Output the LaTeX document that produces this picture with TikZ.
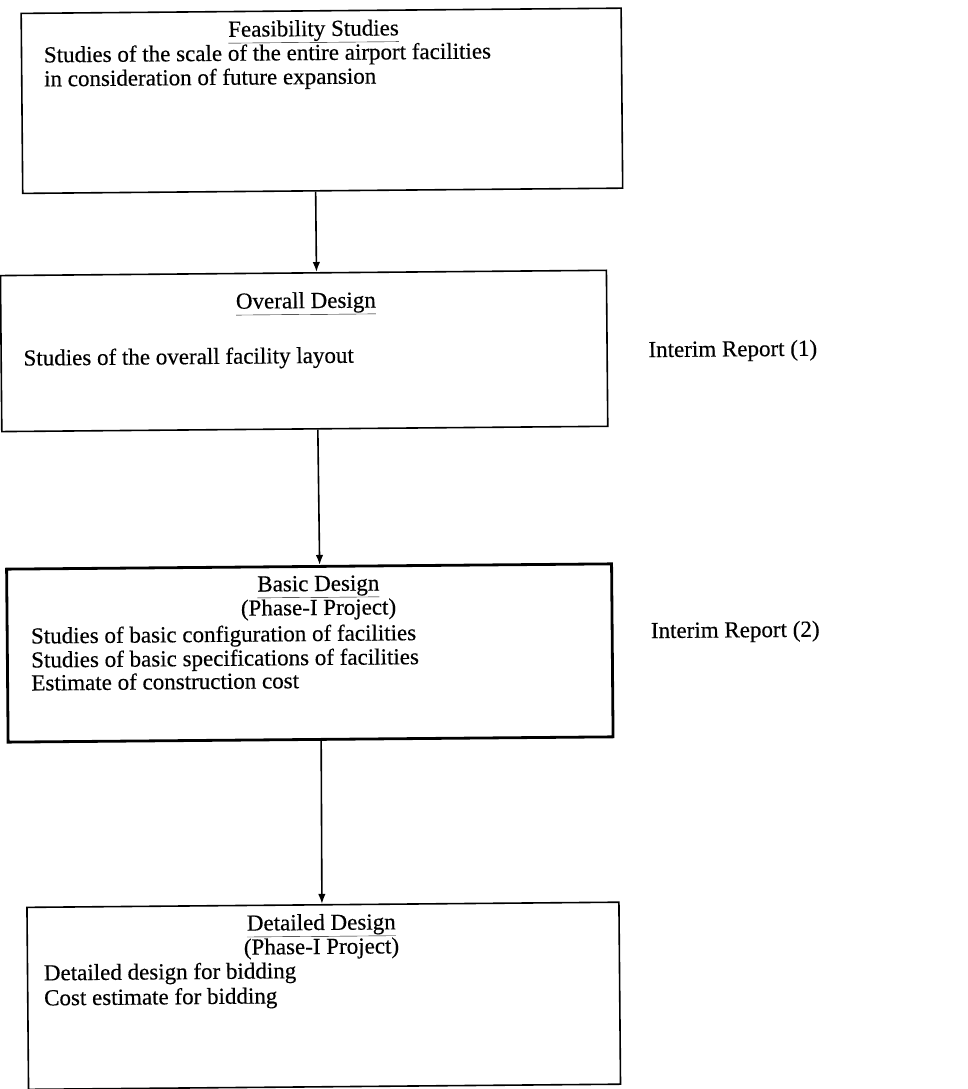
\documentclass[tikz,border=0pt]{standalone}
\usepackage{fontspec}
\setmainfont{Liberation Serif}[FakeBold=0.4]
\usetikzlibrary{arrows.meta,calc}
\begin{document}
\begin{tikzpicture}[x=1pt,y=-1pt,
  box/.style={draw, line width=1.6pt, rectangle, inner sep=0pt, anchor=north west},
  thickbox/.style={box, line width=2.8pt},
  txt/.style={inner sep=0pt, text height=0.7em, text depth=0.2em, font=\fontsize{23}{25}\selectfont},
  flow/.style={draw, line width=1.6pt, -{Latex[length=10pt,width=7.5pt]}}]
\useasboundingbox (0,0) rectangle (968,1089);
\begin{scope}[rotate around={0.5:(320,545)}, every node/.append style={transform shape}]
% box 1
\node[box, minimum width=600pt, minimum height=180pt] (b1) at (25,10) {};
\node[txt, anchor=base] (t1) at (318,36) {\underline{Feasibility Studies}};
\node[txt, anchor=base west] (l1a) at (48,60) {Studies of the scale of the entire airport facilities};
\node[txt, anchor=base west] (l1b) at (48,84) {in consideration of future expansion};
% box 2
\node[box, minimum width=606pt, minimum height=156pt] (b2) at (2,272) {};
\node[txt, anchor=base] (t2) at (308,308) {\underline{Overall Design}};
\node[txt, anchor=base west] (l2a) at (25,363) {Studies of the overall facility layout};
\node[txt, anchor=base west] (r1) at (650,360) {Interim Report (1)};
% box 3
\node[thickbox, minimum width=605pt, minimum height=173pt] (b3) at (5,565) {};
\node[txt, anchor=base] (t3) at (318,591) {\underline{Basic Design}};
\node[txt, anchor=base] (p3) at (318,615) {(Phase-I Project)};
\node[txt, anchor=base west] (l3a) at (30,641) {Studies of basic configuration of facilities};
\node[txt, anchor=base west] (l3b) at (30,665) {Studies of basic specifications of facilities};
\node[txt, anchor=base west] (l3c) at (30,688) {Estimate of construction cost};
\node[txt, anchor=base west] (r2) at (650,641) {Interim Report (2)};
% box 4
\node[box, minimum width=592pt, minimum height=182pt] (b4) at (23,904) {};
\node[txt, anchor=base] (t4) at (318,930) {\underline{Detailed Design}};
\node[txt, anchor=base] (p4) at (318,954) {(Phase-I Project)};
\node[txt, anchor=base west] (l4a) at (40,978) {Detailed design for bidding};
\node[txt, anchor=base west] (l4b) at (40,1003) {Cost estimate for bidding};
% arrows
\draw[flow] ($(b1.south west)!0.4883!(b1.south east)$) -- ($(b2.north west)!0.5215!(b2.north east)$);
\draw[flow] ($(b2.south west)!0.5215!(b2.south east)$) -- ($(b3.north west)!0.5174!(b3.north east)$);
\draw[flow] ($(b3.south west)!0.5174!(b3.south east)$) -- ($(b4.north west)!0.4983!(b4.north east)$);
\end{scope}
\end{tikzpicture}
\end{document}
